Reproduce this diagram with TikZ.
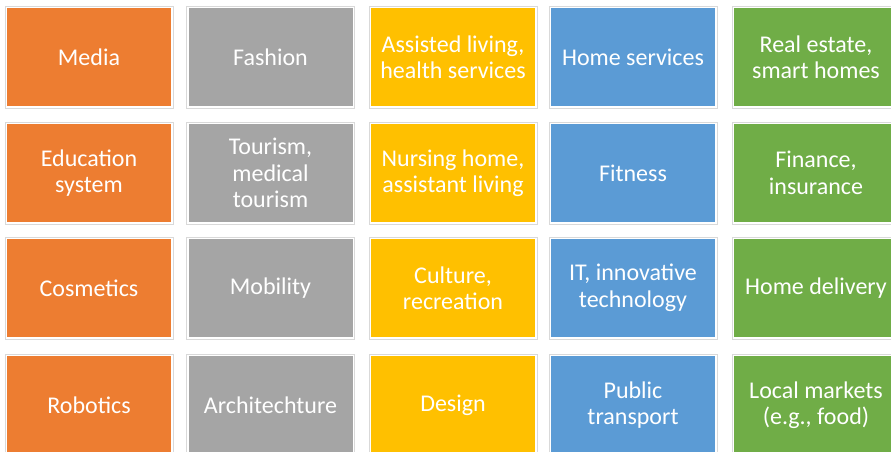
\documentclass[tikz,border=0pt]{standalone}
\usepackage{fontspec}
\setmainfont{Carlito}
\definecolor{corange}{HTML}{ED7D31}
\definecolor{cgray}{HTML}{A5A5A5}
\definecolor{cyellow}{HTML}{FFC000}
\definecolor{cblue}{HTML}{5B9BD5}
\definecolor{cgreen}{HTML}{70AD47}
\definecolor{cframe}{HTML}{D9D9D9}
\tikzset{
  tile/.style={fill=#1, draw=none, minimum width=164pt, minimum height=98pt,
    inner sep=0pt, text=white, align=center,
    font=\fontsize{24}{26.5}\selectfont},
  frame/.style={draw=cframe, line width=0.9pt}
}
\begin{document}
\begin{tikzpicture}[x=1pt,y=-1pt]
\useasboundingbox[fill=white] (0,0) rectangle (891,451);
\def\ca{89}\def\cb{270.5}\def\cc{453}\def\cd{633}\def\ce{816}
\def\ra{57}\def\rb{173}\def\rc{288}\def\rd{405}
% row 1
\node[tile=corange] (n11) at (\ca,\ra) {Media};
\node[tile=cgray]   (n12) at (\cb,\ra) {Fashion};
\node[tile=cyellow] (n13) at (\cc,\ra) {Assisted living,\\health services};
\node[tile=cblue]   (n14) at (\cd,\ra) {Home services};
\node[tile=cgreen]  (n15) at (\ce,\ra) {Real estate,\\smart homes};
% row 2
\node[tile=corange] (n21) at (\ca,\rb) {Education\\system};
\node[tile=cgray]   (n22) at (\cb,\rb) {Tourism,\\medical\\tourism};
\node[tile=cyellow] (n23) at (\cc,\rb) {Nursing home,\\assistant living};
\node[tile=cblue]   (n24) at (\cd,\rb) {Fitness};
\node[tile=cgreen]  (n25) at (\ce,\rb) {Finance,\\insurance};
% row 3
\node[tile=corange] (n31) at (\ca,\rc) {Cosmetics};
\node[tile=cgray]   (n32) at (\cb,\rc) {Mobility};
\node[tile=cyellow] (n33) at (\cc,\rc) {Culture,\\recreation};
\node[tile=cblue]   (n34) at (\cd,\rc) {IT, innovative\\technology};
\node[tile=cgreen]  (n35) at (\ce,\rc) {Home delivery};
% row 4
\node[tile=corange] (n41) at (\ca,\rd) {Robotics};
\node[tile=cgray]   (n42) at (\cb,\rd) {Architechture};
\node[tile=cyellow] (n43) at (\cc,\rd) {Design};
\node[tile=cblue]   (n44) at (\cd,\rd) {Public\\transport};
\node[tile=cgreen]  (n45) at (\ce,\rd) {Local markets\\(e.g., food)};
\foreach \i in {1,2,3,4}{
  \foreach \j in {1,2,3,4,5}{
    \draw[frame] ([shift={(-1.8pt,-1.8pt)}]n\i\j.south west) rectangle ([shift={(1.8pt,1.8pt)}]n\i\j.north east);
  }
}
\end{tikzpicture}
\end{document}
